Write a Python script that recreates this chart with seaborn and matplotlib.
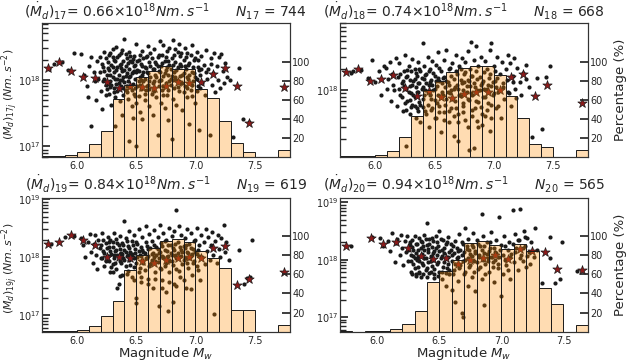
import numpy as np
import pandas as pd
import matplotlib
matplotlib.use("Agg")
import matplotlib.pyplot as plt
import seaborn as sns

# ---------------- data ----------------
years = [17, 18, 19, 20]
mean_rate = ["0.66", "0.74", "0.84", "0.94"]
n_events = [744, 668, 619, 565]

edges_long = [5.7, 5.8, 5.9, 6.0, 6.1, 6.2, 6.3, 6.4, 6.5, 6.6, 6.7,
              6.8, 6.9, 7.0, 7.1, 7.2, 7.3, 7.4, 7.5, 7.6, 7.7, 7.8]
edges_short = edges_long[:-1]

# percentage per magnitude bin
pct_17 = [1.5, 1.5, 2.6, 5, 14, 27, 61, 76, 84, 90, 95, 92, 92, 71, 62, 38, 15, 5.4, 0, 0, 7.8]
pct_18 = [0.8, 0.8, 1.2, 2, 7, 21, 43, 70, 80, 89, 93, 95, 95, 86, 64, 41, 14, 11, 0, 0, 7.3]
pct_19 = [0.6, 0.6, 1.0, 2, 6.5, 16, 32, 65, 80, 88, 95, 97, 94, 84, 77, 67, 23, 23, 0, 0, 7.4]
pct_20 = [0.7, 0, 0.5, 1.2, 2.8, 8, 22, 52, 64, 75, 93, 95, 91, 86, 92, 84, 46, 29, 0, 7]

# bin medians (stars), moment rate in 1e18 Nm/s
star_mw_long = [5.75, 5.85, 5.95, 6.05, 6.15, 6.25, 6.35, 6.45, 6.55, 6.65,
                6.75, 6.85, 6.95, 7.05, 7.15, 7.25, 7.35, 7.45, 7.75]
star_17 = [1.51, 1.86, 1.36, 1.12, 1.08, 0.94, 0.75, 0.81, 0.79, 0.75,
           0.81, 0.94, 0.91, 0.94, 1.23, 1.53, 0.81, 0.224, 0.78]
star_18 = [1.83, 1.99, 1.36, 1.43, 1.62, 1.08, 0.83, 0.98, 0.79, 0.78,
           0.87, 0.93, 0.93, 1.00, 1.52, 1.69, 0.82, 1.18, 0.66]
star_19 = [1.67, 1.86, 2.38, 1.96, 1.61, 0.99, 0.99, 0.95, 0.87, 0.79,
           0.90, 0.95, 1.01, 0.95, 1.41, 1.57, 0.33, 0.42, 0.56]
star_mw_20 = [5.75, 5.95, 6.05, 6.15, 6.25, 6.35, 6.45, 6.55, 6.65,
              6.75, 6.85, 6.95, 7.05, 7.15, 7.25, 7.35, 7.45, 7.65]
star_20 = [1.71, 2.39, 1.90, 2.01, 1.60, 1.15, 1.03, 1.07, 0.85,
           0.98, 1.07, 1.19, 1.03, 1.54, 1.44, 1.35, 0.69, 0.65]

# individual events: magnitude and moment rate (1e18 Nm/s)
mw_17 = [5.76, 5.80, 5.87, 5.92, 5.97, 6.03, 6.06, 6.08, 6.09, 6.10, 6.12, 6.12,
         6.14, 6.15, 6.16, 6.17, 6.18, 6.19, 6.20, 6.21, 6.22, 6.23, 6.24, 6.25,
         6.26, 6.27, 6.27, 6.28, 6.28, 6.29, 6.29, 6.30, 6.30, 6.31, 6.31, 6.32,
         6.32, 6.33, 6.33, 6.34, 6.34, 6.35, 6.35, 6.36, 6.36, 6.37, 6.37, 6.38,
         6.38, 6.39, 6.39, 6.40, 6.40, 6.41, 6.41, 6.42, 6.42, 6.43, 6.43, 6.44,
         6.44, 6.45, 6.45, 6.46, 6.46, 6.47, 6.47, 6.48, 6.48, 6.49, 6.49, 6.50,
         6.50, 6.51, 6.51, 6.52, 6.52, 6.53, 6.53, 6.54, 6.54, 6.55, 6.55, 6.55,
         6.56, 6.57, 6.57, 6.58, 6.58, 6.59, 6.60, 6.60, 6.61, 6.61, 6.62, 6.62,
         6.63, 6.64, 6.64, 6.65, 6.65, 6.66, 6.67, 6.67, 6.68, 6.68, 6.69, 6.69,
         6.70, 6.70, 6.71, 6.71, 6.72, 6.72, 6.73, 6.73, 6.74, 6.74, 6.75, 6.75,
         6.76, 6.76, 6.77, 6.77, 6.78, 6.78, 6.79, 6.79, 6.80, 6.80, 6.81, 6.81,
         6.82, 6.82, 6.83, 6.83, 6.84, 6.84, 6.85,
         6.86, 6.86, 6.87, 6.87, 6.88, 6.88, 6.89, 6.90, 6.90, 6.91, 6.91, 6.92,
         6.93, 6.93, 6.94, 6.95, 6.95, 6.96, 6.97, 6.97, 6.98, 6.99, 7.00, 7.00,
         7.01, 7.02, 7.02, 7.03, 7.04, 7.05, 7.06, 7.07, 7.08, 7.09, 7.10,
         7.11, 7.12, 7.13, 7.14, 7.15, 7.16, 7.17, 7.18, 7.19, 7.20, 7.21, 7.22,
         7.23, 7.24, 7.25, 7.27, 7.29, 7.32, 7.37, 7.40, 7.45,
         6.32, 6.44, 6.50, 6.38, 6.47,
         6.21, 6.22, 6.23, 6.24, 6.25, 6.26, 6.27, 6.28, 6.29, 6.30, 6.31, 6.32,
         6.33, 6.34, 6.35, 6.36, 6.37, 6.38, 6.39, 6.40, 6.41, 6.42, 6.43, 6.44,
         6.45, 6.46, 6.47, 6.48, 6.49, 6.50, 6.51, 6.52, 6.53, 6.54, 6.55, 6.56,
         6.57, 6.58, 6.59, 6.60, 6.61, 6.62, 6.63, 6.64, 6.65, 6.66, 6.67, 6.68,
         6.69, 6.70, 6.71, 6.72, 6.73, 6.74, 6.75, 6.76, 6.77, 6.78, 6.79, 6.80,
         6.81, 6.82, 6.83, 6.84, 6.85, 6.86, 6.87, 6.88, 6.89, 6.90, 6.91, 6.92,
         6.93, 6.94, 6.95, 6.96, 6.97, 6.98, 6.99, 7.00, 7.01, 7.02, 7.03, 7.04,
         6.24, 6.28, 6.31, 6.35, 6.39, 6.42, 6.46, 6.49, 6.53, 6.57, 6.61, 6.65,
         6.19, 6.23, 6.27, 6.30, 6.34, 6.37, 6.41, 6.45, 6.48, 6.52, 6.56, 6.59,
         6.69, 6.73, 6.77, 6.81, 6.85, 6.89, 6.93, 6.97, 7.01, 7.05, 7.09, 7.13]
md_17 = [1.45, 1.72, 1.86, 1.40, 2.50, 2.45, 1.18, 0.80, 0.56, 1.62, 2.22, 0.20,
         1.30, 0.95, 0.50, 1.95, 1.05, 2.20, 0.68, 0.36, 1.55, 2.60, 0.85, 1.20,
         1.85, 0.62, 1.40, 2.57, 0.95, 0.42, 1.70, 1.10, 2.20, 0.75, 1.30, 0.55,
         1.95, 0.88, 3.10, 1.55, 0.68, 1.20, 2.40, 0.48, 1.00, 1.75, 0.80, 1.35,
         2.80, 0.60, 1.10, 4.10, 0.92, 1.60, 0.70, 2.10, 1.25, 0.52, 0.98, 1.45,
         2.60, 0.78, 1.15, 0.40, 1.85, 0.88, 1.30, 2.30, 0.62, 1.05, 1.65, 3.50,
         0.45, 0.82, 1.40, 2.00, 0.58, 1.10, 0.33, 1.75, 0.72, 2.70, 1.20, 0.26,
         0.95, 1.55, 0.50, 2.20, 0.70, 1.30, 3.20, 0.85, 0.40, 1.85, 1.10, 2.50,
         0.62, 1.45, 0.30, 0.95, 2.90, 1.20, 0.55, 1.75, 0.15, 2.20, 0.80, 1.35,
         3.80, 1.00, 0.45, 1.60, 2.40, 0.70, 1.15, 3.40, 0.38, 1.90, 0.90, 1.40,
         2.70, 0.60, 1.20, 0.25, 1.70, 3.00, 0.85, 1.05, 0.13, 2.10, 3.95, 0.52,
         1.30, 0.75, 1.85, 2.90, 1.00, 0.42, 1.55,
         3.50, 0.68, 2.30, 1.15, 0.90, 1.60, 0.35, 2.00, 1.25, 0.80, 3.00, 1.45,
         0.55, 2.50, 1.05, 0.22, 1.80, 0.70, 1.30, 3.30, 0.95, 2.00, 1.10, 0.45,
         2.60, 0.82, 1.55, 0.18, 1.20, 2.30, 0.90, 1.70, 0.60, 2.80, 1.05,
         1.45, 0.15, 2.10, 0.85, 1.25, 2.50, 0.65, 1.60, 1.00, 2.20, 0.75, 2.45,
         1.35, 0.90, 1.80, 1.10, 1.00, 0.14, 1.50, 0.26, 0.23,
         0.20, 0.12, 0.10, 0.30, 0.27,
         1.75, 0.95, 1.35, 2.15, 0.72, 1.50, 2.35, 1.20, 0.85, 1.55, 2.00, 1.05,
         1.40, 2.20, 0.90, 1.65, 2.50, 1.00, 1.90, 1.40, 2.45, 0.80, 1.80, 1.10,
         1.95, 1.25, 2.05, 1.60, 0.75, 1.30, 1.95, 1.35, 2.40, 1.00, 1.60, 2.10,
         1.05, 1.50, 2.30, 1.25, 0.95, 1.60, 2.10, 0.90, 1.45, 1.85, 1.10, 1.60,
         2.40, 1.30, 1.00, 1.80, 0.60, 1.25, 2.20, 1.55, 1.90, 0.95, 1.45, 1.15,
         1.70, 2.40, 1.10, 1.40, 2.60, 0.95, 1.75, 2.50, 1.20, 0.65, 1.60, 2.20,
         1.10, 1.70, 1.20, 2.40, 0.85, 1.55, 1.25, 2.10, 1.05, 2.00, 1.40, 0.75,
         0.60, 0.78, 0.65, 0.72, 0.75, 0.66, 0.70, 0.58, 0.85, 0.62, 0.72, 0.68,
         1.30, 1.05, 0.88, 2.90, 1.05, 1.50, 1.15, 2.30, 1.35, 0.98, 1.30, 0.80,
         0.95, 0.82, 0.70, 1.00, 0.78, 0.90, 0.75, 0.58, 0.68, 1.45, 1.30, 1.75]

mw_18 = [5.79, 5.81, 5.88, 5.94, 5.97, 6.00, 6.03, 6.05, 6.07, 6.09, 6.10, 6.11,
         6.12, 6.13, 6.14, 6.15, 6.16, 6.17, 6.18, 6.19, 6.20, 6.21, 6.22, 6.23,
         6.24, 6.25, 6.26, 6.26,
         6.27, 6.27, 6.28, 6.29, 6.29, 6.30, 6.30, 6.31, 6.31, 6.32, 6.33, 6.33,
         6.34, 6.34, 6.35, 6.35, 6.36, 6.36, 6.37, 6.37, 6.38, 6.38, 6.39, 6.40,
         6.40, 6.41, 6.41, 6.42, 6.42, 6.43, 6.44, 6.44, 6.45, 6.45, 6.46, 6.46,
         6.47, 6.48, 6.48, 6.49, 6.50, 6.50, 6.51, 6.51, 6.52, 6.53, 6.53, 6.54,
         6.54, 6.55, 6.55,
         6.56, 6.57, 6.58, 6.58, 6.59, 6.60, 6.60, 6.61, 6.62, 6.62, 6.63, 6.64,
         6.64, 6.65, 6.66, 6.66, 6.67, 6.68, 6.68, 6.69, 6.70, 6.70, 6.71, 6.72,
         6.72, 6.73, 6.74, 6.74, 6.75, 6.76, 6.76, 6.77, 6.78, 6.78, 6.79, 6.79,
         6.80, 6.81, 6.81, 6.82, 6.82, 6.83, 6.83, 6.84, 6.85, 6.85, 6.86, 6.87,
         6.87, 6.88, 6.89, 6.89, 6.90,
         6.91, 6.92, 6.93, 6.93, 6.94, 6.95, 6.96, 6.97, 6.97, 6.98, 6.98, 6.99,
         7.00, 7.01, 7.02, 7.03, 7.04, 7.05, 7.06, 7.07, 7.08, 7.09, 7.10, 7.11,
         7.12, 7.13, 7.14, 7.15, 7.16, 7.17, 7.18, 7.19, 7.20, 7.22, 7.23, 7.25,
         7.27, 7.30, 7.32, 7.41, 7.48, 7.44, 7.37, 7.27,
         6.20, 6.21, 6.22, 6.23, 6.24, 6.25, 6.26, 6.27, 6.28, 6.29, 6.30, 6.31,
         6.32, 6.33, 6.34, 6.35, 6.36, 6.37, 6.38, 6.39, 6.40, 6.41, 6.42, 6.43,
         6.44, 6.45, 6.46, 6.47, 6.48, 6.49, 6.50, 6.51, 6.52, 6.53, 6.54, 6.55,
         6.56, 6.57, 6.58, 6.59, 6.60, 6.61, 6.62, 6.63, 6.64, 6.65, 6.66, 6.67,
         6.68, 6.69, 6.70, 6.71, 6.72, 6.73, 6.74, 6.75, 6.76, 6.77, 6.78, 6.79,
         6.80, 6.81, 6.82, 6.83, 6.84, 6.85, 6.86, 6.87, 6.88, 6.89, 6.90, 6.91,
         6.92, 6.93, 6.94, 6.95, 6.96, 6.97, 6.98, 6.99, 7.00, 7.01, 7.02, 7.03,
         6.26, 6.29, 6.33, 6.36, 6.40, 6.43, 6.47, 6.50, 6.54, 6.58, 6.62, 6.66,
         6.70, 6.74, 6.78, 6.82, 6.86, 6.90, 6.94, 6.98, 7.04, 7.08, 7.12, 7.16]
md_18 = [1.75, 1.89, 1.95, 1.50, 2.70, 1.30, 1.85, 0.85, 2.20, 2.05, 1.05, 1.45,
         2.50, 0.70, 1.70, 1.20, 1.00, 2.90, 0.60, 1.55, 2.40, 0.85, 1.25, 0.50,
         1.90, 3.20, 1.05, 0.16,
         0.70, 1.60, 2.20, 0.45, 1.15, 0.90, 1.85, 2.80, 0.62, 1.35, 0.80, 2.00,
         0.40, 1.10, 1.60, 0.55, 2.50, 0.95, 1.25, 0.68, 1.85, 0.35, 1.05, 4.70,
         0.75, 1.45, 2.20, 0.50, 1.00, 1.70, 0.62, 3.00, 1.20, 0.30, 0.85, 2.00,
         1.40, 0.55, 2.60, 1.00, 0.72, 1.60, 0.40, 2.30, 1.15, 0.85, 3.50, 0.60,
         1.35, 0.25, 1.90,
         0.95, 1.50, 0.48, 2.70, 1.10, 0.75, 3.80, 1.30, 0.35, 2.00, 0.90, 1.60,
         0.55, 2.40, 1.05, 0.22, 0.70, 1.85, 3.20, 1.20, 0.45, 0.19, 2.20, 0.82,
         1.40, 2.90, 0.60, 1.00, 1.70, 0.38, 2.50, 1.15, 0.75, 3.60, 0.14, 1.35,
         2.00, 4.90, 0.92, 0.52, 1.60, 0.15, 2.70, 1.10, 4.20, 0.70, 1.45, 0.30,
         2.20, 1.00, 0.58, 3.00, 1.25,
         0.80, 1.80, 0.42, 2.60, 1.05, 0.65, 1.50, 3.80, 0.26, 4.70, 1.15, 0.85,
         2.20, 1.35, 0.55, 3.00, 0.95, 1.70, 0.40, 2.50, 1.10, 0.75, 2.00, 1.40,
         3.20, 0.90, 2.40, 0.60, 1.60, 2.90, 1.05, 0.78, 2.10, 1.30, 0.85, 1.75,
         2.30, 1.10, 0.215, 0.28, 2.20, 1.55, 1.47, 1.42,
         1.05, 1.70, 0.80, 1.35, 1.15, 0.65, 1.55, 1.95, 0.95, 1.40, 0.58, 1.20,
         0.85, 1.45, 1.75, 0.95, 1.25, 2.00, 0.62, 1.50, 1.10, 0.85, 1.65, 1.25,
         0.95, 1.85, 1.30, 0.75, 1.20, 1.75, 1.05, 1.35, 0.65, 1.50, 2.10, 0.80,
         1.25, 0.85, 1.55, 0.62, 1.35, 0.95, 1.20, 2.10, 1.00, 0.75, 1.45, 1.10,
         0.55, 1.70, 1.05, 0.85, 2.00, 1.25, 0.65, 1.30, 1.80, 0.95, 1.40, 0.72,
         1.15, 1.60, 0.85, 1.25, 0.55, 1.85, 1.00, 0.68, 1.55, 1.20, 0.45, 1.35,
         1.05, 0.80, 2.00, 1.20, 0.95, 1.70, 0.62, 1.30, 0.90, 1.85, 1.10, 1.50,
         0.52, 0.72, 0.60, 0.50, 0.58, 0.45, 0.52, 0.40, 0.48, 0.38, 0.50, 0.42,
         0.35, 0.48, 0.30, 0.42, 0.36, 0.32, 0.52, 0.40, 0.60, 1.25, 0.95, 1.30]

mw_19 = [5.78, 5.90, 5.97, 6.03, 6.05, 6.07, 6.09, 6.11, 6.12, 6.13, 6.14, 6.15,
         6.16, 6.17, 6.18, 6.19, 6.20, 6.21, 6.22, 6.23, 6.24, 6.25, 6.26,
         6.27, 6.27, 6.28, 6.28, 6.29, 6.30, 6.30, 6.31, 6.31, 6.32, 6.33, 6.33,
         6.34, 6.34, 6.35, 6.35, 6.36, 6.36, 6.37, 6.38, 6.38, 6.39, 6.40, 6.40,
         6.41, 6.41, 6.42, 6.43, 6.43, 6.44, 6.44, 6.45, 6.46, 6.46, 6.47, 6.48,
         6.48, 6.49, 6.50, 6.50, 6.50, 6.51, 6.52, 6.52, 6.53, 6.54, 6.54, 6.55,
         6.55,
         6.56, 6.57, 6.58, 6.58, 6.59, 6.60, 6.60, 6.61, 6.62, 6.63, 6.63, 6.64,
         6.65, 6.65, 6.66, 6.67, 6.68, 6.68, 6.69, 6.69, 6.70, 6.70, 6.71, 6.72,
         6.72, 6.73, 6.74, 6.74, 6.75, 6.75, 6.76, 6.77, 6.77, 6.78, 6.78, 6.79,
         6.80, 6.80, 6.81, 6.81, 6.82, 6.82, 6.83, 6.84, 6.84, 6.85, 6.86, 6.86,
         6.87, 6.88, 6.88, 6.89, 6.90,
         6.91, 6.91, 6.92, 6.93, 6.93, 6.94, 6.95, 6.96, 6.96, 6.97, 6.98, 6.99,
         7.00, 7.01, 7.01, 7.02, 7.03, 7.04, 7.05, 7.06, 7.07, 7.08, 7.09, 7.10,
         7.11, 7.12, 7.13, 7.14, 7.15, 7.16, 7.17, 7.18, 7.19, 7.20, 7.21, 7.22,
         7.24, 7.25, 7.26, 7.28, 7.37, 7.41, 7.44, 7.46, 7.48,
         6.20, 6.21, 6.22, 6.23, 6.24, 6.25, 6.26, 6.27, 6.28, 6.29, 6.30, 6.31,
         6.32, 6.33, 6.34, 6.35, 6.36, 6.37, 6.38, 6.39, 6.40, 6.41, 6.42, 6.43,
         6.44, 6.45, 6.46, 6.47, 6.48, 6.49, 6.50, 6.51, 6.52, 6.53, 6.54, 6.55,
         6.56, 6.57, 6.58, 6.59, 6.60, 6.61, 6.62, 6.63, 6.64, 6.65, 6.66, 6.67,
         6.68, 6.69, 6.70, 6.71, 6.72, 6.73, 6.74, 6.75, 6.76, 6.77, 6.78, 6.79,
         6.80, 6.81, 6.82, 6.83, 6.84, 6.85, 6.86, 6.87, 6.88, 6.89, 6.90, 6.91,
         6.92, 6.93, 6.94, 6.95, 6.96, 6.97, 6.98, 6.99, 7.00, 7.01, 7.02, 7.03,
         6.30, 6.36, 6.42, 6.48, 6.54, 6.60, 6.66, 6.72, 6.78, 6.84, 6.90, 6.96]
md_19 = [1.67, 2.20, 2.30, 2.10, 1.60, 1.00, 1.85, 2.50, 1.25, 0.80, 1.70, 2.40,
         1.10, 0.62, 2.00, 1.45, 0.95, 2.60, 1.30, 0.70, 1.75, 1.05, 2.20,
         0.85, 1.50, 0.55, 2.00, 1.15, 0.75, 1.80, 2.60, 0.95, 1.30, 2.03, 0.62,
         0.30, 1.10, 0.34, 1.60, 0.85, 2.30, 1.20, 0.50, 1.75, 0.95, 4.20, 1.35,
         0.70, 2.10, 1.05, 0.58, 1.55, 2.80, 0.88, 1.25, 0.45, 1.90, 1.00, 0.68,
         2.40, 1.40, 0.16, 0.20, 0.80, 1.70, 0.55, 3.00, 1.10, 0.38, 1.50, 0.90,
         2.20,
         1.25, 0.60, 1.80, 3.40, 0.95, 0.42, 1.40, 2.50, 0.75, 1.15, 1.90, 0.30,
         2.90, 1.00, 0.55, 1.50, 2.20, 0.82, 0.147, 1.20, 3.60, 0.65, 1.75, 0.40,
         1.05, 2.60, 1.35, 0.70, 0.25, 2.00, 1.00, 0.12, 1.60, 3.20, 0.55, 1.20,
         2.30, 0.85, 0.17, 1.45, 0.35, 2.80, 1.10, 6.40, 0.62, 1.80, 1.00, 3.50,
         0.45, 1.35, 2.40, 0.75, 1.55,
         2.10, 0.95, 0.30, 1.25, 3.00, 0.65, 1.70, 1.05, 2.60, 0.50, 1.40, 0.85,
         2.00, 3.20, 1.15, 0.60, 1.60, 0.40, 2.40, 1.00, 1.85, 0.75, 3.00, 1.30,
         2.20, 0.90, 1.60, 2.70, 1.10, 0.105, 1.90, 0.80, 2.40, 1.40, 1.00, 2.10,
         3.60, 1.25, 1.80, 0.90, 1.34, 0.35, 0.43, 0.45, 1.96,
         1.60, 0.95, 2.00, 1.20, 0.85, 1.45, 1.05, 1.85, 1.30, 0.68, 1.50, 1.10,
         0.78, 1.35, 1.75, 1.05, 1.40, 0.80, 1.15, 1.65, 0.90, 1.25, 1.90, 1.10,
         1.45, 0.72, 1.15, 1.60, 0.95, 1.20, 1.85, 1.00, 1.30, 0.65, 1.05, 1.35,
         0.80, 1.20, 0.95, 1.55, 1.05, 0.70, 1.45, 0.90, 1.20, 1.65, 0.85, 1.10,
         1.40, 0.95, 1.25, 0.62, 1.55, 1.00, 1.90, 0.78, 1.30, 1.05, 0.85, 1.60,
         1.10, 0.72, 1.35, 1.70, 0.95, 1.20, 0.58, 1.50, 1.05, 1.25, 0.88, 1.45,
         1.65, 0.78, 1.20, 0.95, 1.45, 1.15, 0.80, 1.90, 1.25, 0.70, 1.35, 1.05,
         0.55, 0.48, 0.52, 0.40, 0.45, 0.35, 0.42, 0.30, 0.38, 0.32, 0.40, 0.28]

mw_20 = [5.79, 5.96, 6.02, 6.05, 6.09, 6.10, 6.12, 6.14, 6.15, 6.16, 6.18, 6.19,
         6.20, 6.21, 6.22, 6.23, 6.24, 6.25, 6.26,
         6.27, 6.27, 6.28, 6.29, 6.29, 6.30, 6.30, 6.31, 6.31, 6.32, 6.33, 6.33,
         6.34, 6.34, 6.35, 6.35, 6.36, 6.36, 6.37, 6.38, 6.38, 6.39, 6.39, 6.40,
         6.40, 6.41, 6.41, 6.42, 6.42, 6.43, 6.44, 6.44, 6.45, 6.45, 6.46, 6.46,
         6.47, 6.48, 6.48, 6.49, 6.50, 6.50, 6.51, 6.52, 6.52, 6.53, 6.54, 6.54,
         6.55, 6.55, 6.56, 6.57, 6.57, 6.58, 6.59, 6.60, 6.60,
         6.61, 6.62, 6.63, 6.63, 6.64, 6.65, 6.65, 6.66, 6.67, 6.68, 6.68, 6.69,
         6.69, 6.70, 6.71, 6.71, 6.72, 6.73, 6.73, 6.74, 6.75, 6.76, 6.76, 6.77,
         6.78, 6.79, 6.79, 6.80, 6.81, 6.82, 6.83, 6.84, 6.84, 6.85, 6.86, 6.86,
         6.87, 6.88, 6.89, 6.90,
         6.91, 6.92, 6.93, 6.94, 6.95, 6.96, 6.97, 6.98, 6.98, 7.00, 7.00, 7.01,
         7.02, 7.03, 7.04, 7.05, 7.06, 7.07, 7.08, 7.09, 7.10, 7.11, 7.12, 7.13,
         7.14, 7.15, 7.16, 7.17, 7.18, 7.19, 7.20, 7.21, 7.22, 7.23, 7.24, 7.26,
         7.27, 7.29, 7.33, 7.39, 7.39, 7.43, 7.47, 7.49, 7.61,
         6.25, 6.26, 6.27, 6.28, 6.29, 6.30, 6.31, 6.32, 6.33, 6.34, 6.35, 6.36,
         6.37, 6.38, 6.39, 6.40, 6.41, 6.42, 6.43, 6.44, 6.45, 6.46, 6.47, 6.48,
         6.49, 6.50, 6.51, 6.52, 6.53, 6.54, 6.55, 6.56, 6.57, 6.58, 6.59, 6.60,
         6.28, 6.31, 6.34, 6.37, 6.40, 6.43, 6.46, 6.49, 6.52, 6.55, 6.58, 6.61,
         6.62, 6.63, 6.64, 6.65, 6.66, 6.67, 6.68, 6.69, 6.70, 6.71, 6.72, 6.73,
         6.74, 6.75, 6.76, 6.77, 6.78, 6.79, 6.80, 6.81, 6.82, 6.83, 6.84, 6.85,
         6.86, 6.87, 6.88, 6.89, 6.90, 6.91, 6.92, 6.93, 6.94, 6.95, 6.96, 6.97,
         6.99, 7.01, 7.03, 7.05, 7.07, 7.09, 7.11, 7.13, 7.15, 7.17, 7.19, 7.21]
md_20 = [1.71, 2.50, 2.40, 1.75, 2.10, 1.40, 2.90, 0.90, 1.95, 2.30, 1.20, 2.70,
         1.60, 0.80, 2.10, 1.35, 2.63, 0.95, 1.80,
         1.20, 0.62, 2.20, 0.85, 1.50, 1.05, 2.60, 0.55, 1.30, 1.90, 0.75, 1.10,
         2.40, 0.95, 1.60, 0.50, 1.25, 2.00, 0.80, 1.45, 2.70, 0.65, 1.05, 4.30,
         1.80, 0.90, 1.35, 2.30, 0.58, 1.15, 1.65, 0.78, 2.10, 1.00, 0.48, 1.40,
         2.60, 0.85, 1.20, 1.75, 0.62, 3.20, 1.05, 1.50, 0.45, 2.20, 0.90, 1.30,
         0.35, 1.85, 0.70, 1.10, 2.50, 0.55, 1.45, 0.95, 0.30,
         1.70, 0.65, 0.18, 2.10, 1.05, 0.42, 1.40, 2.80, 0.80, 0.117, 1.20, 0.10,
         1.90, 0.55, 1.00, 3.50, 1.55, 0.35, 2.30, 0.75, 1.25, 0.50, 1.80, 2.90,
         0.95, 0.28, 1.40, 2.20, 0.68, 1.10, 1.70, 6.30, 0.45, 2.60, 0.16, 1.30,
         0.85, 2.00, 1.05, 0.60,
         1.60, 3.00, 0.90, 0.40, 1.35, 2.20, 0.70, 5.50, 1.10, 0.23, 1.80, 0.55,
         2.60, 1.00, 0.80, 1.50, 2.00, 0.45, 1.25, 7.50, 0.90, 2.80, 1.60, 0.65,
         2.20, 7.70, 1.20, 0.95, 3.20, 1.70, 0.75, 2.40, 1.35, 0.85, 2.00, 1.10,
         3.60, 1.50, 0.39, 2.46, 1.07, 0.39, 0.45, 2.00, 0.64,
         1.45, 2.00, 0.95, 1.65, 1.15, 0.72, 1.85, 1.00, 1.50, 0.62, 2.10, 0.88,
         1.75, 1.05, 2.30, 0.70, 1.55, 1.85, 0.95, 2.40, 1.30, 0.68, 1.60, 2.05,
         0.90, 1.40, 2.30, 1.15, 0.75, 1.60, 1.05, 2.00, 0.85, 1.35, 1.90, 1.20,
         0.55, 0.52, 0.58, 0.55, 0.50, 0.60, 0.55, 0.52, 0.60, 0.58, 0.65, 0.55,
         1.30, 0.85, 1.60, 1.10, 0.70, 1.45, 2.00, 0.95, 1.35, 0.62, 1.75, 1.05,
         1.50, 0.80, 1.15, 1.65, 0.60, 1.30, 0.90, 1.85, 1.20, 0.75, 1.45, 1.00,
         1.70, 0.55, 1.25, 0.95, 1.40, 2.00, 1.10, 0.75, 1.60, 1.00, 1.30, 0.85,
         1.45, 1.20, 1.70, 0.65, 1.10, 1.85, 1.35, 2.20, 1.05, 1.60, 2.50, 1.15]

ylims = [(6.9e16, 7.1e18), (1.1e17, 9.0e18), (5.2e16, 1.05e19), (5.5e16, 1.2e19)]

panels = [
    (mw_17, md_17, star_mw_long, star_17, edges_long, pct_17),
    (mw_18, md_18, star_mw_long, star_18, edges_long, pct_18),
    (mw_19, md_19, star_mw_long, star_19, edges_long, pct_19),
    (mw_20, md_20, star_mw_20, star_20, edges_short, pct_20),
]


def draw_panel(ax, idx):
    mw, md, smw, smd, edges, pct = panels[idx]
    yr = years[idx]
    events = pd.DataFrame({"mw": mw, "md": np.array(md) * 1e18})
    medians = pd.DataFrame({"mw": smw, "md": np.array(smd) * 1e18})

    sns.scatterplot(data=events, x="mw", y="md", color="k", s=9,
                    linewidth=0, ax=ax, zorder=2)
    sns.scatterplot(data=medians, x="mw", y="md", marker="*", s=50,
                    color="#8b1a1a", edgecolor="k", linewidth=0.5, ax=ax, zorder=3)
    ax.set_yscale("log")
    ax.set_ylim(*ylims[idx])
    ax.set_xlim(edges[0], edges[-1])
    ax.set_xticks([6.0, 6.5, 7.0, 7.5])
    ax.set_xlabel("")
    ax.set_ylabel("")
    ax.tick_params(axis="both", which="both", direction="in", labelsize=7)
    ax.tick_params(axis="y", pad=1.0)
    ax.tick_params(axis="x", pad=3)

    ax2 = ax.twinx()
    centers = [(a + b) / 2 for a, b in zip(edges[:-1], edges[1:])]
    sns.histplot(x=centers, weights=pct, bins=edges, ax=ax2, color="darkorange",
                 alpha=0.3, edgecolor="k", linewidth=0.7)
    ax2.set_ylim(0, 140)
    ax2.set_yticks([20, 40, 60, 80, 100])
    ax2.set_xlim(edges[0], edges[-1])
    ax2.set_ylabel("")
    ax2.tick_params(axis="y", direction="in", labelsize=7, pad=1.5)

    for a in (ax, ax2):
        for sp in a.spines.values():
            sp.set_color("0.2")
            sp.set_linewidth(0.8)

    title = (r"$(\dot{M}_d)_{%d}$= %s$\times10^{18}Nm.s^{-1}$" % (yr, mean_rate[idx])
             + "      " + r"$N_{%d}$ = %d" % (yr, n_events[idx]))
    # bottom row needs a little more room above the 10^19 tick label
    ax.set_title(title, fontsize=10, pad=4 if idx < 2 else 5.5)
    return ax2


sns.set_theme(style="white")
plt.rcParams["font.family"] = ["DejaVu Sans"]

fig = plt.figure(figsize=(6.27, 3.61), dpi=100)
w, h = 0.396, 0.371
boxes = [(0.0665, 0.5645), (0.5423, 0.5645), (0.0665, 0.081), (0.5423, 0.081)]
for i, (x0, y0) in enumerate(boxes):
    ax = fig.add_axes([x0, y0, w, h])
    ax2 = draw_panel(ax, i)
    if i in (0, 2):
        ax.set_ylabel(r"$(\dot{M}_d)_{%dj}\ (Nm.s^{-2})$" % years[i], fontsize=7.9)
        ax.yaxis.set_label_coords(-0.093, 0.47)
    if i in (1, 3):
        ax2.set_ylabel("Percentage (%)", fontsize=9.5)
    if i in (2, 3):
        ax.set_xlabel(r"Magnitude $M_w$", fontsize=9.5, labelpad=-1)

fig.savefig("out.png", dpi=100)
